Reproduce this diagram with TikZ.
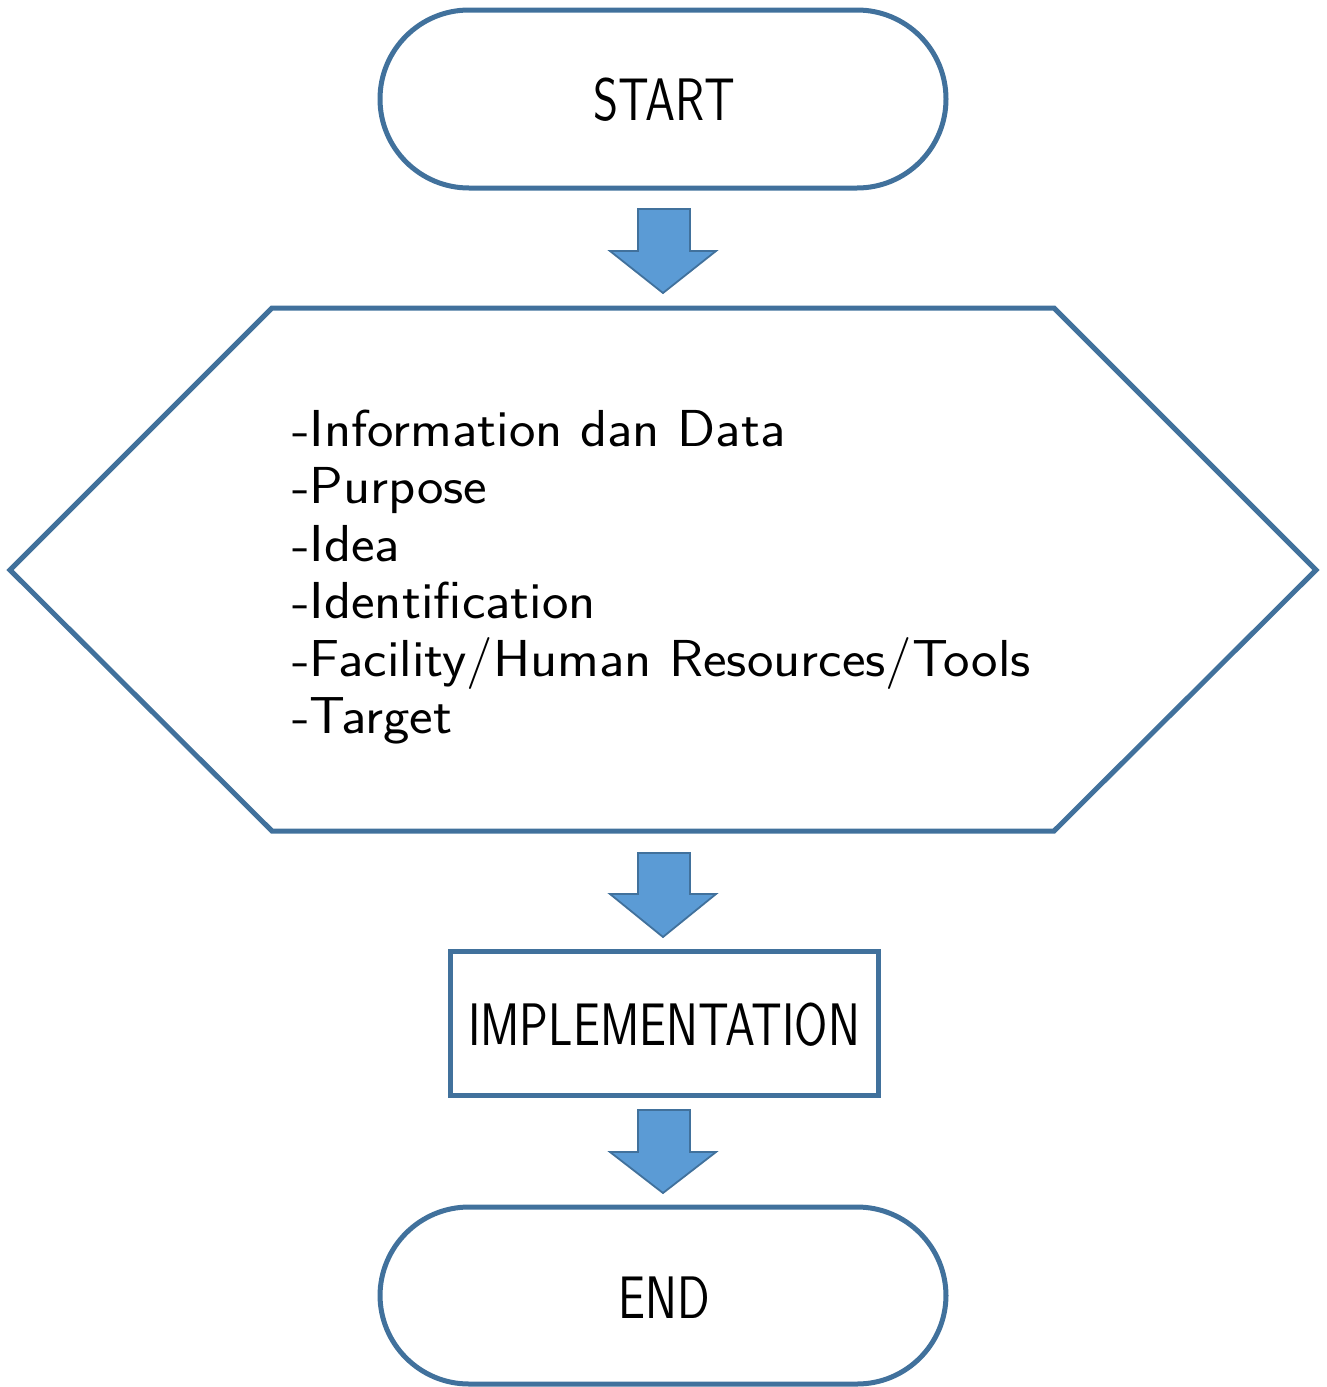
\documentclass[tikz,border=0pt]{standalone}
\usepackage{fontspec}
\begin{document}
\begin{tikzpicture}[x=1pt,y=-1pt,
  shapeline/.style={draw=lineblue,line width=5pt,line join=miter},
  blockarrow/.style={draw=lineblue,fill=fillblue,line width=1.8pt,line join=miter},
  lbl/.style={font=\sffamily\fontsize{60}{64}\selectfont\addfontfeature{FakeBold=0.4},anchor=base,inner sep=0pt},
]
\definecolor{lineblue}{HTML}{41719C}
\definecolor{fillblue}{HTML}{5B9BD5}
\useasboundingbox (0,0) rectangle (1326,1387);
% START
\draw[shapeline,rounded corners=89pt] (380,10) rectangle (946,188);
\node[lbl] (start) at (664,120) {\scalebox{0.8}[1]{START}};
% arrow 1
\draw[blockarrow] (638,209) -- (690,209) -- (690,251) -- (716,251) -- (663,293) -- (610,251) -- (638,251) -- cycle;
% hexagon
\draw[shapeline] (272,308) -- (1054,308) -- (1316,570) -- (1054,831) -- (272,831) -- (10,570) -- cycle;
\node[font=\sffamily\fontsize{52}{57.5}\selectfont\addfontfeature{FakeBold=0.3},anchor=north west,inner sep=0pt] (list) at (292,405.75)
  {\scalebox{1.08}[1]{\begin{tabular}{@{}l@{}}-Information dan Data\\-Purpose\\-Idea\\-Identification\\-Facility/Human Resources/Tools\\-Target\end{tabular}}};
% arrow 2
\draw[blockarrow] (638,853) -- (690,853) -- (690,894) -- (716,894) -- (663,937) -- (610,894) -- (638,894) -- cycle;
% implementation
\draw[shapeline] (450,951) rectangle (878,1095);
\node[lbl] (impl) at (664,1045) {\scalebox{0.8}[1]{IMPLEMENTATION}};
% arrow 3
\draw[blockarrow] (638,1110) -- (690,1110) -- (690,1152) -- (716,1152) -- (663,1193) -- (610,1152) -- (638,1152) -- cycle;
% END
\draw[shapeline,rounded corners=89pt] (380,1207) rectangle (946,1384);
\node[lbl] (end) at (664,1318) {\scalebox{0.8}[1]{END}};
\end{tikzpicture}
\end{document}
